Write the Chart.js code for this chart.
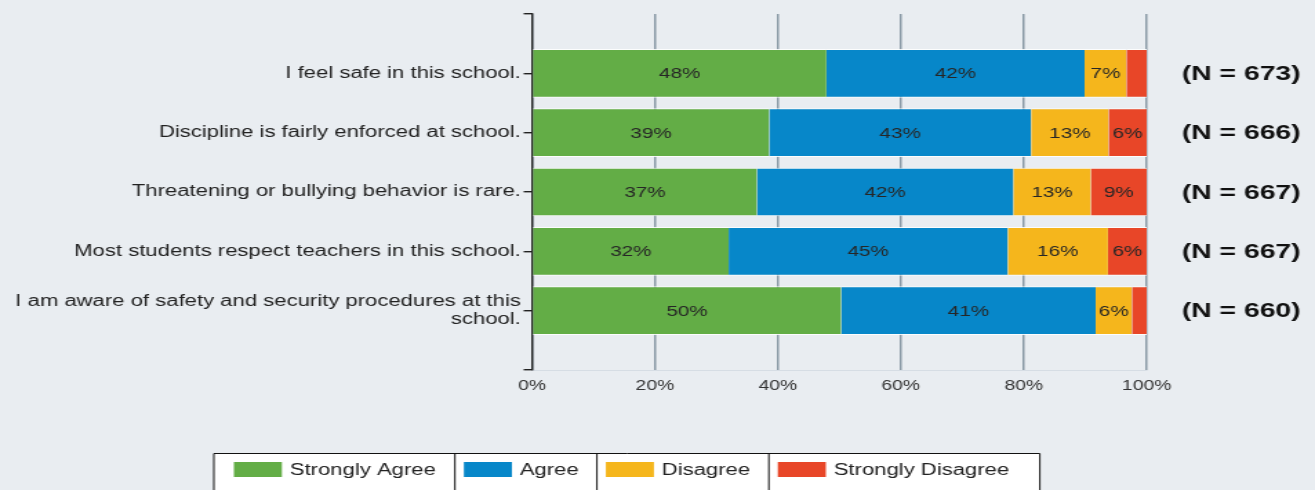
<!DOCTYPE html>
<html>
<head>
<meta charset="utf-8">
<script src="https://cdn.jsdelivr.net/npm/chart.js@4"></script>
<style>
    body { margin: 0; background: #e9edf1; overflow: hidden; }
    /* the source picture is stretched sideways, so the canvas is too */
    #chart { display: block; width: 1315px !important; height: 490px !important; }
</style>
</head>
<body>
<canvas id="chart" width="953" height="490"></canvas>
<script>
// data
const categories = [
    "I feel safe in this school.",
    "Discipline is fairly enforced at school.",
    "Threatening or bullying behavior is rare.",
    "Most students respect teachers in this school.",
    ["I am aware of safety and security procedures at this", "school."]
];
const nCounts = [673, 666, 667, 667, 660];
const seriesNames = ["Strongly Agree", "Agree", "Disagree", "Strongly Disagree"];
const stronglyAgree = [47.9, 38.6, 36.6, 32.0, 50.3];
const agree = [42.0, 42.6, 41.7, 45.4, 41.4];
const disagree = [6.8, 12.6, 12.6, 16.3, 5.9];
const stronglyDisagree = [3.3, 6.2, 9.1, 6.3, 2.4];
const xTicks = [0, 20, 40, 60, 80, 100];

const colors = ["#63ad46", "#0787c9", "#f5b61c", "#e84628"];
const FONT = "'Liberation Sans', Arial, sans-serif";

Chart.defaults.font.family = FONT;
Chart.defaults.color = "#2a2a2a";

function rows(values) {
    // row positions 1..5 on the index scale
    return values.map((v, i) => ({ x: v, y: i + 1 }));
}

let datasets = [stronglyAgree, agree, disagree, stronglyDisagree].map((vals, k) => ({
    label: seriesNames[k],
    data: rows(vals),
    backgroundColor: colors[k],
    borderColor: "rgba(255,255,255,0.85)",
    borderWidth: { top: 1, bottom: 1, left: 0, right: 0 },
    borderSkipped: false,
    categoryPercentage: 1,
    barPercentage: 0.82
}));

const bgPlugin = {
    id: "bg",
    beforeDraw(chart) {
        let ctx = chart.ctx;
        ctx.save();
        ctx.fillStyle = "#e9edf1";
        ctx.fillRect(0, 0, chart.width, chart.height);
        ctx.restore();
    }
};

// percentage inside each segment
const segLabels = {
    id: "segLabels",
    afterDatasetsDraw(chart) {
        let ctx = chart.ctx;
        ctx.save();
        ctx.font = "15px " + FONT;
        ctx.fillStyle = "#262626";
        ctx.textAlign = "center";
        ctx.textBaseline = "middle";
        chart.data.datasets.forEach((ds, di) => {
            chart.getDatasetMeta(di).data.forEach((bar, i) => {
                let v = ds.data[i].x;
                if (v < 5) return;
                ctx.fillText(Math.round(v) + "%", (bar.x + bar.base) / 2, bar.y + 1);
            });
        });
        ctx.restore();
    }
};

// (N = ...) on the right and the boxed legend underneath
const extras = {
    id: "extras",
    afterDraw(chart) {
        let ctx = chart.ctx;
        let yScale = chart.scales.y;
        ctx.save();
        ctx.font = "bold 20.5px " + FONT;
        ctx.fillStyle = "#111";
        ctx.textAlign = "center";
        ctx.textBaseline = "middle";
        nCounts.forEach((n, i) => {
            ctx.fillText("(N = " + n + ")", 899.5, yScale.getPixelForValue(i + 1) + 1);
        });

        // legend cells
        let edges = [155, 329.7, 432.6, 557.2, 753.6];
        let top = 453;
        ctx.fillStyle = "#fff";
        ctx.fillRect(edges[0], top, edges[4] - edges[0], 60);
        ctx.strokeStyle = "#111";
        ctx.lineWidth = 1;
        ctx.beginPath();
        ctx.moveTo(edges[0], top + 60);
        ctx.lineTo(edges[0], top + 0.5);
        ctx.lineTo(edges[4], top + 0.5);
        ctx.lineTo(edges[4], top + 60);
        for (let k = 1; k < 4; k++) {
            ctx.moveTo(edges[k], top);
            ctx.lineTo(edges[k], top + 60);
        }
        ctx.stroke();
        ctx.font = "16px " + FONT;
        ctx.textAlign = "left";
        ctx.textBaseline = "middle";
        for (let k = 0; k < 4; k++) {
            let sx = edges[k] + (k == 0 ? 14.5 : 6.5);
            ctx.fillStyle = colors[k];
            ctx.fillRect(sx, 462, 34.8, 15);
            ctx.fillStyle = "#222";
            ctx.fillText(seriesNames[k], sx + 40.5, 471);
        }
        ctx.restore();
    }
};

new Chart(document.getElementById("chart"), {
    type: "bar",
    data: { datasets: datasets },
    options: {
        indexAxis: "y",
        responsive: false,
        devicePixelRatio: 1,
        animation: false,
        layout: { padding: { top: 14, right: 122, bottom: 0, left: 0 } },
        plugins: {
            legend: { display: false },
            tooltip: { enabled: false }
        },
        scales: {
            x: {
                type: "linear",
                stacked: true,
                min: 0,
                max: 100,
                afterBuildTicks: (scale) => { scale.ticks = xTicks.map(v => ({ value: v })); },
                afterFit: (scale) => { scale.height = 120; },
                grid: { color: "#8a9aa6", lineWidth: 1.5, drawTicks: false },
                border: { color: "#d6dde4", width: 1 },
                ticks: {
                    padding: 8,
                    font: { size: 14 },
                    color: "#333",
                    callback: (v) => v + "%"
                }
            },
            y: {
                type: "linear",
                stacked: true,
                reverse: true,
                offset: false,
                min: 0,
                max: 6,
                afterFit: (scale) => { scale.width = 385.5; },
                grid: { drawOnChartArea: false, drawTicks: true, tickLength: 6, color: "#222", lineWidth: 1.4, offset: false },
                border: { color: "#222", width: 1.4 },
                ticks: {
                    stepSize: 1,
                    padding: 2,
                    font: { size: 16, lineHeight: 1.15 },
                    color: "#222",
                    callback: (v) => categories[v - 1] || ""
                }
            }
        }
    },
    plugins: [bgPlugin, segLabels, extras]
});
</script>
</body>
</html>
